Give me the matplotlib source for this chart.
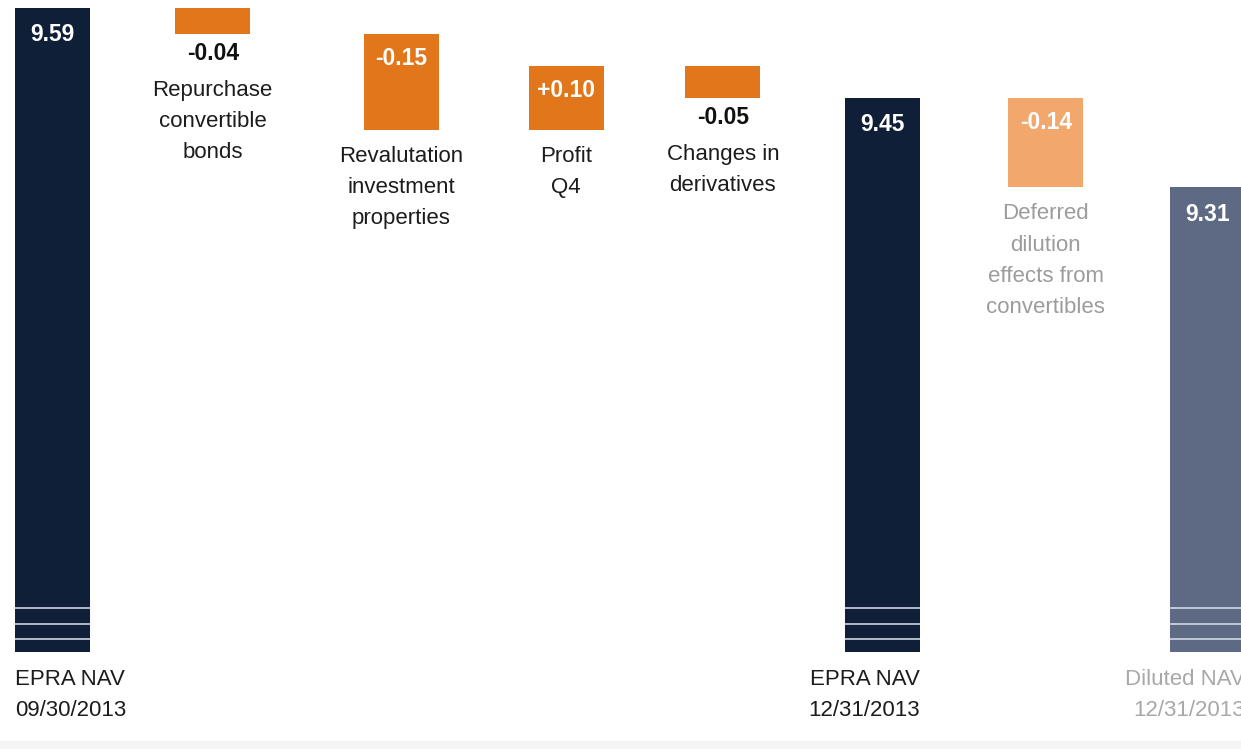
import matplotlib
matplotlib.use("Agg")
import matplotlib.pyplot as plt
from matplotlib.patches import Rectangle

plt.rcParams["font.family"] = ["Liberation Sans", "DejaVu Sans"]

# NAV per share bridge, Q3 -> Q4 2013
steps = ["EPRA NAV\n09/30/2013",
         "Repurchase\nconvertible\nbonds",
         "Revalutation\ninvestment\nproperties",
         "Profit\nQ4",
         "Changes in\nderivatives",
         "EPRA NAV\n12/31/2013",
         "Deferred\ndilution\neffects from\nconvertibles",
         "Diluted NAV\n12/31/2013"]
kinds = ["total", "delta", "delta", "delta", "delta", "total", "delta", "total"]
values = [9.59, -0.04, -0.15, 0.10, -0.05, 9.45, -0.14, 9.31]

# layout: slot positions (bars are not evenly spaced), colours, text styles
pos = [0, 1, 2.18, 3.21, 4.19, 5.19, 6.21, 7.22]
bar_colors = ["#0e1f37", "#e2761b", "#e2761b", "#e2761b", "#e2761b",
              "#0e1f37", "#f2a76c", "#5e6984"]
text_colors = ["#1c1c1c"] * 6 + ["#9c9c9c", "#a8a8a8"]
WIDTH = 0.47
PX = 640.0          # pixels per NAV unit on the value axis
BASE = 9.59 - 644 / PX  # axis is broken; totals start here

fig = plt.figure(figsize=(12.41, 7.49), dpi=100)
fig.patch.set_facecolor("white")
ax = fig.add_axes([0, 0, 1, 1])
ax.set_xlim(-0.33, 7.43)
ax.set_ylim(9.59 - 741 / PX, 9.59 + 8 / PX)
ax.axis("off")

# faint footer band
fig.patches.append(Rectangle((0, 0), 1, 8 / 749, transform=fig.transFigure,
                             facecolor="#f5f5f5", edgecolor="none", zorder=0))


def pts(px):
    return px * 0.72


running = 0.0
for i, (name, kind, val) in enumerate(zip(steps, kinds, values)):
    x = pos[i]
    if kind == "total":
        running = val
        lo, hi = BASE, val
    else:
        lo, hi = sorted([running, running + val])
        running = running + val
    ax.bar(x, hi - lo, bottom=lo, width=WIDTH, color=bar_colors[i],
           linewidth=0, zorder=2)

    if kind == "total":
        txt = f"{val:.2f}"
        ax.annotate(txt, xy=(x - WIDTH / 2, hi), xytext=(pts(15), -pts(27)),
                    textcoords="offset points", ha="left", va="center",
                    color="white", fontsize=16.5, fontweight="bold", zorder=3)
        # axis-break marks near the foot of the total bars
        for off in (43.5, 28, 12.5):
            ax.hlines(BASE + off / PX, x - WIDTH / 2, x + WIDTH / 2,
                      color="#dbe3ee", lw=1.1, zorder=3)
        first = i == 0
        ax.annotate(name, xy=(x - WIDTH / 2 if first else x + WIDTH / 2, BASE),
                    xytext=(0, -pts(17)), textcoords="offset points",
                    ha="left" if first else "right", va="top",
                    color=text_colors[i], fontsize=16, linespacing=1.65,
                    annotation_clip=False)
    else:
        txt = f"{val:+.2f}" if val > 0 else f"{val:.2f}"
        if abs(val) < 0.07:
            # small step: figure goes under the bar, name below it
            ax.annotate(txt, xy=(x, lo), xytext=(0, -pts(20)),
                        textcoords="offset points", ha="center", va="center",
                        color="#111111", fontsize=16.5, fontweight="bold")
            gap = 46
        else:
            ax.annotate(txt, xy=(x, hi), xytext=(0, -pts(25)),
                        textcoords="offset points", ha="center", va="center",
                        color="white", fontsize=16.5, fontweight="bold", zorder=3)
            gap = 16
        ax.annotate(name, xy=(x, lo), xytext=(0, -pts(gap)),
                    textcoords="offset points", ha="center", va="top",
                    color=text_colors[i], fontsize=16, linespacing=1.65)

fig.savefig("out.png", dpi=100)
